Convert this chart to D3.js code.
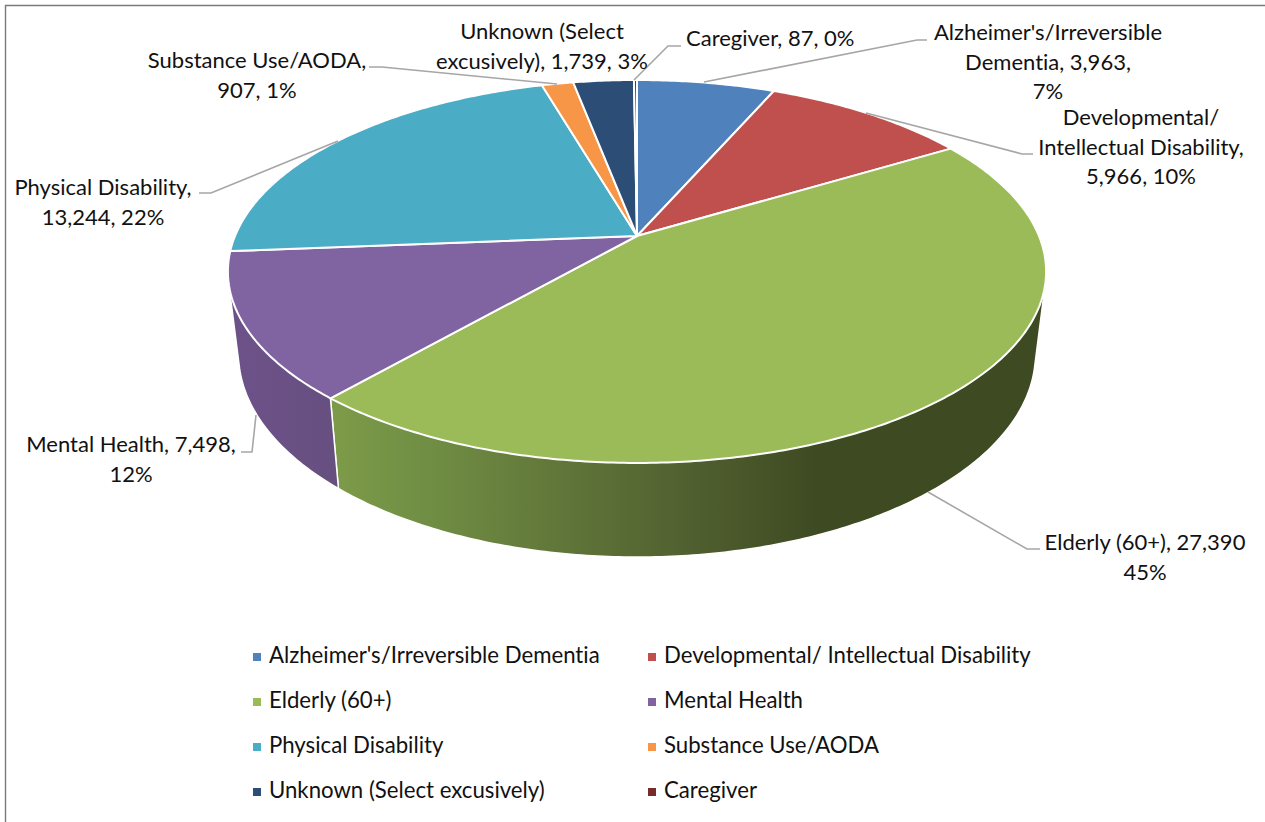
<!DOCTYPE html>
<meta charset="utf-8">
<title>Participants by target group</title>
<style>
  html, body { margin: 0; background: #fff; }
  svg { display: block; }
  text { font-family: Lato, "Open Sans", sans-serif; fill: #111; font-variant-ligatures: none; }
</style>
<body>
<script src="https://d3js.org/d3.v7.min.js"></script>
<script>

const categories = ["Alzheimer's/Irreversible Dementia", "Developmental/ Intellectual Disability", "Elderly (60+)",
  "Mental Health", "Physical Disability", "Substance Use/AODA", "Unknown (Select excusively)", "Caregiver"];
const values = [3963, 5966, 27390, 7498, 13244, 907, 1739, 87];
const colors = ["#4f81bd", "#c0504d", "#9bbb59", "#8064a2", "#4bacc6", "#f79646", "#2c4d75", "#772c2a"];
const labelLines = [
  ["Alzheimer's/Irreversible", "Dementia, 3,963,", "7%"],
  ["Developmental/", "Intellectual Disability,", "5,966, 10%"],
  ["Elderly (60+), 27,390", "45%"],
  ["Mental Health, 7,498,", "12%"],
  ["Physical Disability,", "13,244, 22%"],
  ["Substance Use/AODA,", "907, 1%"],
  ["Unknown (Select", "excusively), 1,739, 3%"],
  ["Caregiver, 87, 0%"]
];

const width = 1265, height = 822;
const labelSize = 22, legendSize = 22.2;

// label centre x, first baseline y, then the leader line
const labelPos = [
  { x: 1048, y: 40, leader: [[704, 82], [917, 40], [927, 40]] },
  { x: 1141, y: 125, leader: [[866, 113], [1022, 154], [1033, 154]] },
  { x: 1145, y: 550, leader: [[928, 492], [1027, 549], [1040, 549]] },
  { x: 131, y: 452, leader: [[256, 415], [252, 452], [241, 452]] },
  { x: 103, y: 195, leader: [[338, 141], [211, 193], [199, 193]] },
  { x: 257, y: 68, leader: [[557, 84], [382, 67], [369, 67]] },
  { x: 542, y: 39, leader: [[634, 80], [668, 46], [681, 46]] },
  { x: 686, y: 46, anchor: "start" }
];

// top and bottom disc of the pie, with a bit of perspective
const persp = 0.1853;
const topDisc = { cx: 637, cy: 236, rx: 402, ry: 184.9 };
const botDisc = { cx: 637, cy: 316.5, rx: 391.5, ry: 196 };

const rim = (a, disc) => {
  const u = Math.sin(a), v = -Math.cos(a), d = 1 - persp * v;
  return [disc.cx + disc.rx * u / d, disc.cy + disc.ry * v / d];
};
const arcPoints = (a0, a1, disc) => {
  const n = Math.max(2, Math.ceil((a1 - a0) * 90));
  return d3.range(n + 1).map(i => rim(a0 + (a1 - a0) * i / n, disc));
};

const svg = d3.select("body").append("svg")
    .attr("width", width)
    .attr("height", height);

const defs = svg.append("defs");
const addGradient = (id, x1, x2, stops) => {
  const g = defs.append("linearGradient").attr("id", id)
      .attr("gradientUnits", "userSpaceOnUse")
      .attr("x1", x1).attr("x2", x2).attr("y1", 0).attr("y2", 0);
  stops.forEach(s => g.append("stop").attr("offset", s[0]).attr("stop-color", s[1]));
};
addGradient("side2", 338, 1046, [[0, "#7c9a48"], [0.12, "#718f44"], [0.3, "#62783a"], [0.5, "#505f2f"], [0.68, "#3e4a22"], [1, "#3e4a22"]]);
addGradient("side3", 230, 338, [[0, "#6d5289"], [1, "#674f80"]]);

// frame, only top and left show in the crop
svg.append("path")
    .attr("d", `M5.5,${height}V5.5H${width}`)
    .attr("fill", "none")
    .attr("stroke", "#7a7a7a")
    .attr("stroke-width", 1.4);

const pie = d3.pie().sort(null).value(d => d).startAngle(0).endAngle(2 * Math.PI);
const slices = pie(values);
const line = d3.line();

// side wall, only the slices facing the viewer
slices.forEach((s, i) => {
  const mid = (s.startAngle + s.endAngle) / 2;
  if (Math.cos(mid) >= 0) return;
  const pts = arcPoints(s.startAngle, s.endAngle, topDisc).concat(arcPoints(s.startAngle, s.endAngle, botDisc));
  const hull = d3.polygonHull(pts);
  svg.append("path")
      .attr("d", line(hull) + "Z")
      .attr("fill", `url(#side${i})`)
      .attr("stroke", "#fff")
      .attr("stroke-width", 1.5);
});

// top face
svg.selectAll("path.slice")
    .data(slices)
  .enter().append("path")
    .attr("class", "slice")
    .attr("d", s => line([[topDisc.cx, topDisc.cy]].concat(arcPoints(s.startAngle, s.endAngle, topDisc))) + "Z")
    .attr("fill", (s, i) => colors[i])
    .attr("stroke", "#fff")
    .attr("stroke-width", 2)
    .attr("stroke-linejoin", "round");

// leader lines
svg.selectAll("path.leader")
    .data(labelPos.filter(d => d.leader))
  .enter().append("path")
    .attr("class", "leader")
    .attr("d", d => line(d.leader))
    .attr("fill", "none")
    .attr("stroke", "#a6a6a6")
    .attr("stroke-width", 1.6);

// data labels
labelLines.forEach((lines, i) => {
  lines.forEach((txt, j) => {
    svg.append("text")
        .attr("x", labelPos[i].x)
        .attr("y", labelPos[i].y + j * 29.7)
        .attr("text-anchor", labelPos[i].anchor || "middle")
        .style("font-size", labelSize + "px")
        .text(txt);
  });
});

// legend, two columns
const legendX = d3.scaleOrdinal().domain([0, 1]).range([253, 648]);
const legendY = d3.scalePoint().domain([0, 1, 2, 3]).range([657, 792]);
const legend = svg.selectAll("g.legend")
    .data(categories)
  .enter().append("g")
    .attr("class", "legend")
    .attr("transform", (d, i) => `translate(${legendX(i % 2)},${legendY(Math.floor(i / 2))})`);
legend.append("rect")
    .attr("y", -4)
    .attr("width", 8)
    .attr("height", 8)
    .attr("fill", (d, i) => colors[i]);
legend.append("text")
    .attr("x", 16)
    .attr("y", 6)
    .style("font-size", legendSize + "px")
    .text(d => d);

</script>
